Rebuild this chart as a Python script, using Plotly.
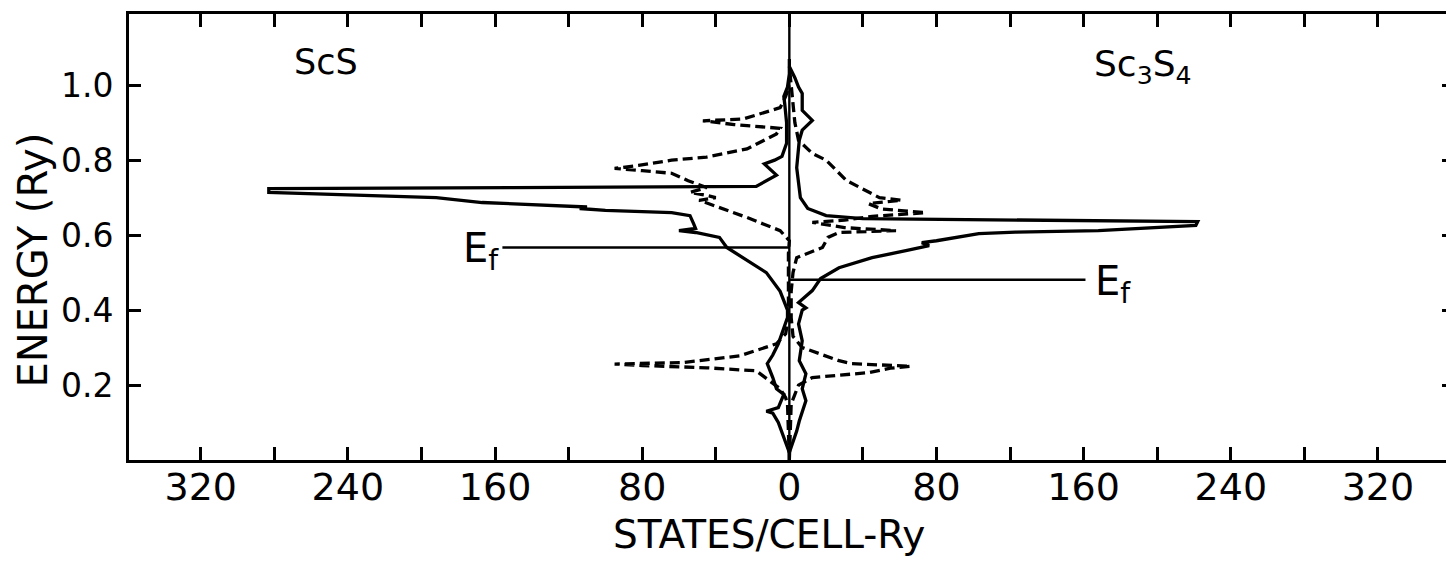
import plotly.graph_objects as go

# ---------------- data ----------------
# ScS (left panel), total DOS (solid)
scs_tot_E = [0.02, 0.06, 0.10, 0.125, 0.13, 0.14, 0.16, 0.175, 0.19, 0.22, 0.257, 0.28,
             0.31, 0.35, 0.38, 0.40, 0.45, 0.50, 0.53, 0.567, 0.594, 0.607, 0.612, 0.618,
             0.63, 0.652, 0.66, 0.662, 0.666, 0.671, 0.675, 0.687, 0.70, 0.714, 0.724,
             0.727, 0.73, 0.76, 0.775, 0.79, 0.80, 0.81, 0.845, 0.90, 0.95, 0.97, 0.995,
             1.03, 1.07]
scs_tot_D = [0, 3, 6, 9, 12.5, 6, 4, 3, 7, 9, 12, 9,
             6, 3, 1, 1, 5, 12.5, 22, 34, 38, 51, 60, 51,
             52, 54, 64, 82, 100, 114, 110, 167, 192, 283, 283,
             150, 18, 7, 10, 13.6, 8, 4, 1.5, 1.5, 2.5, 3, 1,
             0, 0]

# ScS partial DOS (dashed)
scs_par_E = [0.0, 0.10, 0.15, 0.166, 0.19, 0.238, 0.246, 0.252, 0.256, 0.26, 0.278, 0.31,
             0.337, 0.38, 0.45, 0.55, 0.585, 0.612, 0.647, 0.693, 0.70, 0.706, 0.714,
             0.727, 0.745, 0.765, 0.772, 0.778, 0.786, 0.80, 0.808, 0.83, 0.87, 0.885,
             0.895, 0.905, 0.91, 0.94, 0.97, 1.0]
scs_par_D = [0, 0.5, 1, 2, 5, 18, 45, 80, 95, 58, 27, 7,
             2, 0.5, 0.5, 0.5, 0, 5, 23, 49, 40, 45, 54,
             45, 55, 64, 80, 95, 82, 64, 45, 23, 7, 5,
             30, 47, 25, 5, 2, 0]

# Sc3S4 (right panel), total DOS (solid)
s34_tot_E = [0.02, 0.077, 0.104, 0.158, 0.19, 0.23, 0.265, 0.318, 0.363, 0.40, 0.406, 0.42,
             0.452, 0.484, 0.513, 0.54, 0.559, 0.572, 0.58, 0.585, 0.604, 0.608, 0.612,
             0.62, 0.626, 0.636, 0.640, 0.644, 0.652, 0.671, 0.70, 0.75, 0.78, 0.853,
             0.88, 0.906, 0.933, 0.978, 0.995, 1.02, 1.05]
s34_tot_D = [0, 4, 5.4, 9, 7, 9, 5.4, 7, 5, 7, 9, 5,
             12.5, 17, 27, 45, 64, 76, 72, 80, 103, 123, 168,
             200, 221, 222, 100, 40, 20, 10, 6, 5, 4, 5.4,
             7, 12.5, 7, 7, 5, 3, 0]

# Sc3S4 partial DOS (dashed)
s34_par_E = [0.0, 0.10, 0.15, 0.20, 0.22, 0.233, 0.245, 0.25, 0.257, 0.265, 0.30, 0.33,
             0.38, 0.45, 0.50, 0.54, 0.567, 0.594, 0.607, 0.612, 0.62, 0.634, 0.64, 0.65,
             0.66, 0.67, 0.684, 0.693, 0.70, 0.746, 0.80, 0.818, 0.853, 0.90, 0.95, 1.0,
             1.05]
s34_par_D = [0, 0.5, 1, 5, 12.5, 43, 55, 66, 34, 27, 7, 2,
             1, 1, 2, 4, 18, 21, 27, 58, 30, 12.5, 30, 45,
             74, 50, 43, 61, 49, 31, 20, 12.5, 5, 3, 2, 1,
             0]

ef_scs = 0.567     # Fermi level ScS (Ry)
ef_s34 = 0.481     # Fermi level Sc3S4 (Ry)

x_tickvals = [-320, -280, -240, -200, -160, -120, -80, -40, 0, 40, 80, 120, 160, 200, 240, 280, 320]
x_ticktext = ["320", "", "240", "", "160", "", "80", "", "0", "", "80", "", "160", "", "240", "", "320"]
y_tickvals = [0.2, 0.4, 0.6, 0.8, 1.0]
y_ticktext = ["0.2", "0.4", "0.6", "0.8", "1.0"]

# ---------------- figure ----------------
FONT = "DejaVu Sans"
LW = 3.3
fig = go.Figure()

fig.add_trace(go.Scatter(x=[-d for d in scs_tot_D], y=scs_tot_E, mode="lines",
                         line=dict(color="black", width=LW), showlegend=False))
fig.add_trace(go.Scatter(x=[-d for d in scs_par_D], y=scs_par_E, mode="lines",
                         line=dict(color="black", width=LW, dash="10px,5px"), showlegend=False))
fig.add_trace(go.Scatter(x=s34_tot_D, y=s34_tot_E, mode="lines",
                         line=dict(color="black", width=LW), showlegend=False))
fig.add_trace(go.Scatter(x=s34_par_D, y=s34_par_E, mode="lines",
                         line=dict(color="black", width=LW, dash="10px,5px"), showlegend=False))

# Fermi level lines
fig.add_trace(go.Scatter(x=[-156, 0], y=[ef_scs, ef_scs], mode="lines",
                         line=dict(color="black", width=2.4), showlegend=False))
fig.add_trace(go.Scatter(x=[0, 161], y=[ef_s34, ef_s34], mode="lines",
                         line=dict(color="black", width=2.4), showlegend=False))
# central zero line (on overlay axis so the right-side ticks get drawn)
fig.add_trace(go.Scatter(x=[0, 0], y=[0, 1.19], mode="lines", yaxis="y2",
                         line=dict(color="black", width=2.4), showlegend=False))

fig.update_layout(
    width=1447, height=565,
    margin=dict(l=129, r=1, t=14, b=105),
    paper_bgcolor="white", plot_bgcolor="white",
    font=dict(family=FONT, color="black"),
    xaxis=dict(range=[-359, 357], tickvals=x_tickvals, ticktext=x_ticktext,
               ticks="inside", ticklen=13, tickwidth=2.5, tickcolor="black",
               showline=True, linewidth=3, linecolor="black", mirror="ticks",
               showgrid=False, zeroline=False, ticklabelstandoff=-9,
               tickfont=dict(size=38, family=FONT)),
    yaxis=dict(range=[0, 1.19], tickvals=y_tickvals, ticktext=y_ticktext,
               ticks="inside", ticklen=12, tickwidth=2.5, tickcolor="black",
               showline=True, linewidth=3, linecolor="black", mirror=False,
               showgrid=False, zeroline=False, ticklabelstandoff=6,
               tickfont=dict(size=33, family=FONT)),
    yaxis2=dict(range=[0, 1.19], overlaying="y", side="right", anchor="x",
                tickvals=y_tickvals, ticks="inside", ticklen=4, tickwidth=2.5,
                tickcolor="black", showticklabels=False, showline=False,
                showgrid=False, zeroline=False),
)

ann = [
    dict(text="STATES/CELL-Ry", xref="x", yref="paper", x=-11, y=0, yanchor="middle",
         xanchor="center", yshift=-74, showarrow=False, font=dict(size=39, family=FONT)),
    dict(text="ENERGY (Ry)", xref="paper", yref="y", x=0, y=0.532, xshift=-96,
         xanchor="center", yanchor="middle",
         textangle=-90, showarrow=False, font=dict(size=40, family=FONT)),
    dict(text="ScS", xref="x", yref="y", x=-252, y=1.061, showarrow=False,
         font=dict(size=35, family=FONT)),
    dict(text="Sc<sub>3</sub>S<sub>4</sub>", xref="x", yref="y", x=192, y=1.061,
         yshift=-4, showarrow=False, font=dict(size=36, family=FONT)),
    dict(text="E<sub>f</sub>", xref="x", yref="y", x=-157, y=ef_scs, xanchor="right",
         yshift=-4, showarrow=False, font=dict(size=40, family=FONT)),
    dict(text="E<sub>f</sub>", xref="x", yref="y", x=165, y=ef_s34, xanchor="left",
         yshift=-4, showarrow=False, font=dict(size=40, family=FONT)),
]
fig.update_layout(annotations=ann)

fig.write_html("out.html")
